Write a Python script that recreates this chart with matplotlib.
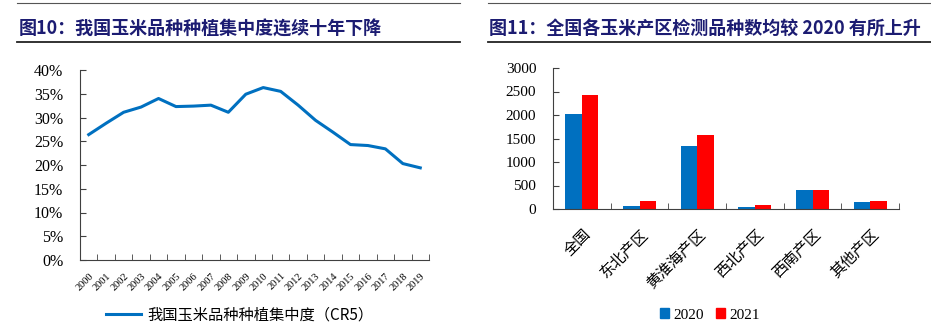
import matplotlib
matplotlib.use("Agg")
import matplotlib.pyplot as plt
from matplotlib.lines import Line2D
from matplotlib.patches import Patch
import numpy as np

plt.rcParams['font.family'] = ['Liberation Serif', 'Noto Sans CJK SC', 'DejaVu Sans']

# left chart data: CR5 concentration (%)
years = [str(y) for y in range(2000, 2020)]
cr5 = [26.4, 28.8, 31.1, 32.2, 34.0, 32.3, 32.4, 32.6, 31.1, 34.9,
       36.3, 35.5, 32.6, 29.4, 26.9, 24.3, 24.1, 23.4, 20.3, 19.4]

# right chart data: number of tested varieties
regions = ['全国', '东北产区', '黄淮海产区', '西北产区', '西南产区', '其他产区']
v2020 = [2028, 71, 1347, 43, 411, 156]
v2021 = [2418, 177, 1582, 85, 404, 177]

blue = '#0070C0'
red = '#FF0000'
navy = '#1C1C72'
spine_col = '#404040'
cjk = ['Noto Sans CJK SC', 'Liberation Serif']

fig = plt.figure(figsize=(9.31, 3.30), dpi=100)

# title rules and titles
for x0, x1 in [(17, 460), (488, 931)]:
    fig.add_artist(Line2D([x0 / 931, x1 / 931], [1 - 3 / 330, 1 - 3 / 330],
                          color='#555555', lw=0.8))
    fig.add_artist(Line2D([x0 / 931, x1 / 931], [1 - 42 / 330, 1 - 42 / 330],
                          color='#222222', lw=1.3))
fig.text(19 / 931, 1 - 29 / 330, '图10：我国玉米品种种植集中度连续十年下降',
         color=navy, fontsize=13, fontweight='bold', va='center', family=cjk)
fig.text(489 / 931, 1 - 29 / 330, '图11：全国各玉米产区检测品种数均较 2020 有所上升',
         color=navy, fontsize=13, fontweight='bold', va='center', family=cjk)

# ---- left: line chart
ax1 = fig.add_axes([80 / 931, 70 / 330, 349 / 931, 190 / 330])
x = np.arange(len(years))
ax1.plot(x, cr5, color=blue, lw=2.2)
ax1.set_xlim(-0.5, len(years) - 0.5)
ax1.set_ylim(0, 40)
ax1.set_yticks(range(0, 41, 5))
ax1.set_yticklabels([f'{v}%' for v in range(0, 41, 5)], fontsize=11.5)
ax1.set_xticks(x)
ax1.set_xticklabels(years, rotation=45, ha='right', rotation_mode='anchor', fontsize=7.5)
ax1.set_xticks(np.arange(-0.5, len(years), 1), minor=True)
ax1.tick_params(axis='x', which='major', length=0, pad=8)
ax1.tick_params(axis='x', which='minor', length=4, color=spine_col, direction='in')
ax1.tick_params(axis='y', length=4, color=spine_col, direction='in', pad=12)
for s in ['top', 'right']:
    ax1.spines[s].set_visible(False)
for s in ['left', 'bottom']:
    ax1.spines[s].set_color(spine_col)

fig.legend([Line2D([0], [0], color=blue, lw=2.2)], ['我国玉米品种种植集中度（CR5）'],
           loc='center', bbox_to_anchor=(240 / 931, 1 - 315 / 330), frameon=False,
           handlelength=2.3, handletextpad=0.4, prop={'family': cjk, 'size': 11})

# ---- right: bar chart
ax2 = fig.add_axes([553 / 931, 121 / 330, 346 / 931, 141 / 330])
xr = np.arange(len(regions))
w = 0.285
ax2.bar(xr - w / 2, v2020, width=w, color=blue, label='2020')
ax2.bar(xr + w / 2, v2021, width=w, color=red, label='2021')
ax2.set_xlim(-0.5, len(regions) - 0.5)
ax2.set_ylim(0, 3000)
ax2.set_yticks(range(0, 3001, 500))
ax2.tick_params(axis='y', labelsize=11, length=4, color=spine_col, direction='in', pad=12)
ax2.set_xticks(xr)
ax2.set_xticklabels(regions, rotation=45, ha='right', rotation_mode='anchor',
                    fontsize=11, family=['Noto Sans CJK SC'])
ax2.set_xticks(np.arange(-0.5, len(regions), 1), minor=True)
ax2.tick_params(axis='x', which='major', length=0, pad=12)
ax2.tick_params(axis='x', which='minor', length=4, color=spine_col, direction='in')
for s in ['top', 'right']:
    ax2.spines[s].set_visible(False)
for s in ['left', 'bottom']:
    ax2.spines[s].set_color(spine_col)

fig.legend([Patch(color=blue), Patch(color=red)], ['2020', '2021'],
           loc='center', bbox_to_anchor=(710 / 931, 1 - 315 / 330), ncol=2, frameon=False,
           handlelength=0.6, handleheight=0.6, handletextpad=0.3, columnspacing=0.8,
           prop={'size': 11})

fig.savefig('out.png', dpi=100)
